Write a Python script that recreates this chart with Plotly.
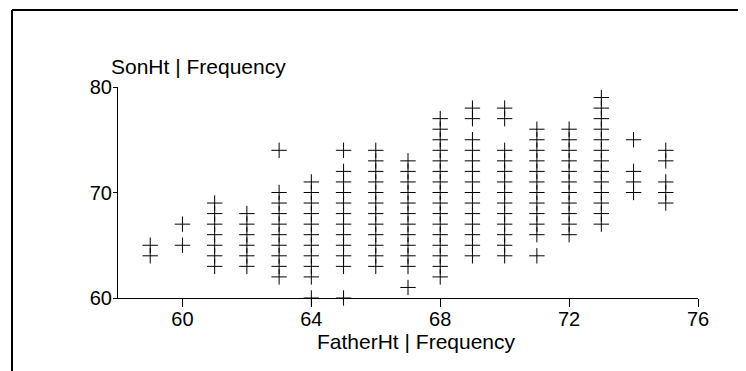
import plotly.graph_objects as go

# Son heights observed for each father height (one '+' per distinct value)
son_59 = [64, 65]
son_60 = [65, 67]
son_61 = [63, 64, 65, 66, 67, 68, 69]
son_62 = [63, 64, 65, 66, 67, 68]
son_63 = [62, 63, 64, 65, 66, 67, 68, 69, 70, 74]
son_64 = [60, 62, 63, 64, 65, 66, 67, 68, 69, 70, 71]
son_65 = [60, 63, 64, 65, 66, 67, 68, 69, 70, 71, 72, 74]
son_66 = [63, 64, 65, 66, 67, 68, 69, 70, 71, 72, 73, 74]
son_67 = [61, 63, 64, 65, 66, 67, 68, 69, 70, 71, 72, 73]
son_68 = [62, 63, 64, 65, 66, 67, 68, 69, 70, 71, 72, 73, 74, 75, 76, 77]
son_69 = [64, 65, 66, 67, 68, 69, 70, 71, 72, 73, 74, 75, 77, 78]
son_70 = [64, 65, 66, 67, 68, 69, 70, 71, 72, 73, 74, 77, 78]
son_71 = [64, 66, 67, 68, 69, 70, 71, 72, 73, 74, 75, 76]
son_72 = [66, 67, 68, 69, 70, 71, 72, 73, 74, 75, 76]
son_73 = [67, 68, 69, 70, 71, 72, 73, 74, 75, 76, 77, 78, 79]
son_74 = [70, 71, 72, 75]
son_75 = [69, 70, 71, 73, 74]

father_values = [59, 60, 61, 62, 63, 64, 65, 66, 67, 68, 69, 70, 71, 72, 73, 74, 75]
son_columns = [son_59, son_60, son_61, son_62, son_63, son_64, son_65, son_66, son_67,
               son_68, son_69, son_70, son_71, son_72, son_73, son_74, son_75]

x_ticks = [60, 64, 68, 72, 76]
y_ticks = [60, 70, 80]
x_title = "FatherHt | Frequency"
y_title = "SonHt | Frequency"

xs, ys = [], []
for f, col in zip(father_values, son_columns):
    for s in col:
        xs.append(f)
        ys.append(s)

FONT = "Liberation Sans, Arial, sans-serif"

fig = go.Figure(go.Scatter(
    x=xs, y=ys, mode="markers",
    marker=dict(symbol="cross-thin-open", size=11, line=dict(color="black", width=1), color="black"),
    cliponaxis=False, showlegend=False, hoverinfo="x+y",
))

# page has an 8px body margin; figure coordinates = page coordinates - 8
W, H = 738, 363
L, T = 110, 79
pw, ph = 580, 211
R, B = W - L - pw, H - T - ph
OFF = 8


def px_x(page_x):
    return (page_x - OFF - L) / pw


def px_y(page_y):
    return (T + ph - (page_y - OFF)) / ph


fig.update_layout(
    width=W, height=H,
    margin=dict(l=L, r=R, t=T, b=B, pad=0),
    paper_bgcolor="white", plot_bgcolor="white",
    font=dict(family=FONT, size=20, color="black"),
    xaxis=dict(range=[58, 76], tickvals=x_ticks, ticks="outside", ticklen=8, tickcolor="black",
               showline=True, linecolor="black", linewidth=1, showgrid=False, zeroline=False,
               tickfont=dict(size=20), fixedrange=True, ticklabelstandoff=-5),
    yaxis=dict(range=[60, 80], tickvals=y_ticks, ticks="outside", ticklen=4, tickcolor="black",
               showline=True, linecolor="black", linewidth=1, showgrid=False, zeroline=False,
               tickfont=dict(size=20), fixedrange=True, ticklabelstandoff=-3),
    annotations=[
        dict(text=y_title, xref="paper", yref="paper", x=px_x(109), y=px_y(67),
             xanchor="left", yanchor="middle", showarrow=False, font=dict(size=21)),
        dict(text=x_title, xref="paper", yref="paper", x=px_x(416), y=px_y(341),
             xanchor="center", yanchor="middle", showarrow=False, font=dict(size=21)),
    ],
    shapes=[
        dict(type="line", xref="paper", yref="paper", x0=px_x(12), x1=px_x(12),
             y0=px_y(10), y1=px_y(380), line=dict(color="black", width=2)),
        dict(type="line", xref="paper", yref="paper", x0=px_x(12), x1=px_x(760),
             y0=px_y(10), y1=px_y(10), line=dict(color="black", width=2)),
    ],
)

fig.write_html("out.html", config={"displayModeBar": False})
